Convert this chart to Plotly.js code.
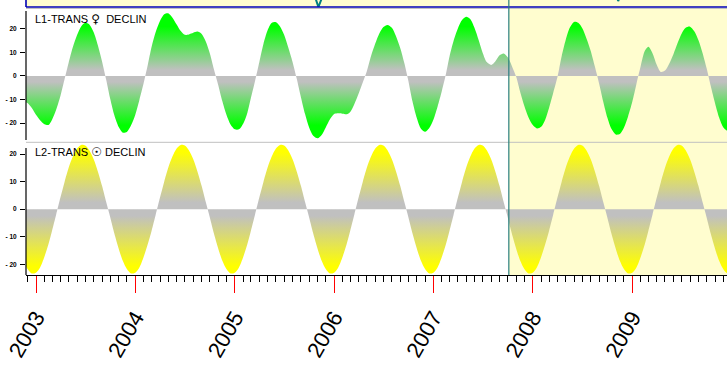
<!DOCTYPE html>
<html><head><meta charset="utf-8">
<script src="https://cdn.plot.ly/plotly-3.0.1.min.js"></script>
<style>html,body{margin:0;padding:0;background:#fff}#chart{width:727px;height:367px}</style>
</head><body><div id="chart"></div>
<script>
// Samples on the 1st and 16th of each month, starting 1 Nov 2002
const startYear = 2002, startMonth = 11;

// L1: transiting Venus declination (degrees)
const venusDecl = [
  -10.5, -10.8, -11.5, -13.5,
  -16.5, -18.8, -20.5, -20.8, -18.6, -14.4, -8.4, -1.4, 5.6, 12.1, 17.4, 21.1, 22.6, 21.9, 18.6, 13.2, 6.1, -1.6, -9.8, -16.7, -21.7, -24.1, -23.8, -21.1,
  -16.5, -10.2, -2.9, 4.8, 12.4, 18.7, 23.5, 26.3, 26.7, 24.9, 21.9, 19.1, 17.5, 17.7, 18.4, 18.9, 17.9, 14.7, 9.6, 2.9, -3.9, -10.8, -16.5, -20.6,
  -22.7, -22.7, -20.2, -15.6, -9.3, -2.2, 6.0, 13.6, 19.3, 22.5, 22.9, 21.1, 17.5, 12.2, 6.0, -1.0, -9.1, -16.2, -21.9, -25.4, -26.5, -25.1, -21.9, -18.5,
  -16.2, -15.9, -16.1, -16.3, -15.3, -12.0, -7.5, -2.8, 2.0, 8.3, 13.8, 18.1, 20.8, 21.7, 20.5, 17.0, 11.8, 5.4, -2.2, -10.9, -18.0, -22.4, -23.7, -22.2,
  -18.5, -13.1, -6.3, 0.9, 8.3, 15.0, 20.3, 23.8, 25.2, 24.2, 20.4, 15.3, 9.8, 5.9, 4.7, 6.2, 8.8, 9.6, 8.0, 4.3, -0.3, -6.9, -12.8, -17.6,
  -20.9, -22.3, -21.6, -18.5, -13.5, -7.2, -0.3, 8.3, 15.3, 20.5, 23.0, 22.6, 20.3, 16.1, 10.6, 4.1, -3.3, -11.0, -17.7, -22.5, -24.9, -24.7, -22.0, -17.3,
  -10.9, -3.4, 4.4, 10.7, 12.4, 9.7, 4.7, 1.7, 2.3, 5.1, 9.3, 13.9, 18.0, 20.5, 21.0, 19.1, 15.2, 9.8, 3.3, -4.2, -11.6, -17.7, -21.8, -23.3,
  -23.0
];

// L2: transiting Sun declination (degrees)
const sunDecl = [
  -14.3, -18.7, -21.7, -23.3,
  -23.0, -21.1, -17.2, -12.6, -7.8, -2.0, 4.3, 9.9, 15.0, 19.0, 22.0, 23.3, 23.1, 21.4, 18.1, 13.8, 8.4, 2.6, -3.0, -8.8, -14.3, -18.7, -21.7, -23.3,
  -23.0, -21.1, -17.2, -12.6, -7.8, -2.0, 4.3, 9.9, 15.0, 19.0, 22.0, 23.3, 23.1, 21.4, 18.1, 13.8, 8.4, 2.6, -3.0, -8.8, -14.3, -18.7, -21.7, -23.3,
  -23.0, -21.1, -17.2, -12.6, -7.8, -2.0, 4.3, 9.9, 15.0, 19.0, 22.0, 23.3, 23.1, 21.4, 18.1, 13.8, 8.4, 2.6, -3.0, -8.8, -14.3, -18.7, -21.7, -23.3,
  -23.0, -21.1, -17.2, -12.6, -7.8, -2.0, 4.3, 9.9, 15.0, 19.0, 22.0, 23.3, 23.1, 21.4, 18.1, 13.8, 8.4, 2.6, -3.0, -8.8, -14.3, -18.7, -21.7, -23.3,
  -23.0, -21.1, -17.2, -12.6, -7.8, -2.0, 4.3, 9.9, 15.0, 19.0, 22.0, 23.3, 23.1, 21.4, 18.1, 13.8, 8.4, 2.6, -3.0, -8.8, -14.3, -18.7, -21.7, -23.3,
  -23.0, -21.1, -17.2, -12.6, -7.8, -2.0, 4.3, 9.9, 15.0, 19.0, 22.0, 23.3, 23.1, 21.4, 18.1, 13.8, 8.4, 2.6, -3.0, -8.8, -14.3, -18.7, -21.7, -23.3,
  -23.0, -21.1, -17.2, -12.6, -7.8, -2.0, 4.3, 9.9, 15.0, 19.0, 22.0, 23.3, 23.1, 21.4, 18.1, 13.8, 8.4, 2.6, -3.0, -8.8, -14.3, -18.7, -21.7, -23.3,
  -23.0
];

// Top (cut-off) panel: the dips of its curve that reach into view
const stripDates  = ['2005-10-18', '2005-11-04', '2005-11-24', null, '2008-10-24', '2008-11-10', '2008-11-30'];
const stripValues = [2, 0, 2, null, 2.85, 0.85, 2.85];

const glyph = g => '<span style="font-family:\'DejaVu Sans\';font-size:12px">' + g + '</span>';
const panelLabels = ['L1-TRANS ' + glyph('\u2640') + '  DECLIN', 'L2-TRANS ' + glyph('\u2609') + ' DECLIN'];
const yTickVals = [-20, -10, 0, 10, 20];
const yTickText = ['- 20', '- 10', '0', '10', '20'];
const markerDate = '2007-10-05';
const xRange = ['2002-11-25 06:00', '2009-12-14 22:00'];

function semiMonthlyDates(n) {
  const out = [];
  let y = startYear, m = startMonth;
  for (let i = 0; i < n; i++) {
    out.push(y + '-' + String(m).padStart(2, '0') + '-' + (i % 2 === 0 ? '01' : '16'));
    if (i % 2 === 1) { m++; if (m > 12) { m = 1; y++; } }
  }
  return out;
}
const dates = semiMonthlyDates(venusDecl.length);

const GRAY = '#C0C0C0';
const traces = [
  {
    x: dates, y: venusDecl, xaxis: 'x', yaxis: 'y2', type: 'scatter', mode: 'lines',
    line: {width: 0, shape: 'spline', smoothing: 0.8}, fill: 'tozeroy',
    fillgradient: {type: 'vertical', start: -28, stop: 28,
      colorscale: [[0, '#00FF00'], [0.125, '#00FF00'], [0.455, GRAY], [0.545, GRAY], [0.875, '#00FF00'], [1, '#00FF00']]},
    hoverinfo: 'skip'
  },
  {
    x: dates, y: sunDecl, xaxis: 'x', yaxis: 'y', type: 'scatter', mode: 'lines',
    line: {width: 0, shape: 'spline', smoothing: 0.8}, fill: 'tozeroy',
    fillgradient: {type: 'vertical', start: -24, stop: 24,
      colorscale: [[0, '#FFFF00'], [0.07, '#FFFF00'], [0.45, GRAY], [0.55, GRAY], [0.93, '#FFFF00'], [1, '#FFFF00']]},
    hoverinfo: 'skip'
  },
  {
    x: stripDates, y: stripValues, xaxis: 'x', yaxis: 'y3', type: 'scatter', mode: 'lines',
    line: {width: 2, color: '#008080'}, connectgaps: false, hoverinfo: 'skip'
  }
];

const P = v => (275 - v) / 275; // helper: pixel row inside plot area -> paper fraction
const yCommon = {
  anchor: 'x', tickvals: yTickVals, ticktext: yTickText, ticks: 'outside', ticklen: 5, tickwidth: 1,
  tickcolor: '#000', tickfont: {family: 'Arial', size: 6.5, color: '#000', weight: 'bold'},
  showgrid: false, zeroline: false, showline: false, fixedrange: true, ticklabelstandoff: 2
};

const layout = {
  width: 727, height: 367,
  margin: {l: 26, r: 0, t: 0, b: 92, pad: 0},
  paper_bgcolor: '#ffffff', plot_bgcolor: 'rgba(0,0,0,0)',
  showlegend: false,
  xaxis: {
    type: 'date', range: xRange, anchor: 'y', showline: true, linecolor: '#000', linewidth: 1,
    ticks: 'outside', ticklen: 17, tickwidth: 1, tickcolor: '#FF0000',
    tick0: '2003-01-01', dtick: 'M12', tickformat: '%Y', tickangle: -60,
    tickfont: {family: 'Arial', size: 22, color: '#000'}, ticklabelstandoff: 3,
    showgrid: false, zeroline: false,
    minor: {dtick: 'M1', ticks: 'outside', ticklen: 6, tickwidth: 1, tickcolor: '#000', showgrid: false}
  },
  yaxis: Object.assign({domain: [0, P(143)], range: [-23.86, 24.0]}, yCommon),
  yaxis2: Object.assign({domain: [P(141), P(9)], range: [-27.66, 28.5]}, yCommon),
  yaxis3: {domain: [P(7), 1], range: [0, 1], anchor: 'x', visible: false, fixedrange: true},
  shapes: [
    {type: 'rect', xref: 'x', yref: 'paper', x0: markerDate, x1: xRange[1], y0: 0, y1: P(8.3),
     fillcolor: '#FFFDCF', line: {width: 0}, layer: 'below'},
    {type: 'rect', xref: 'paper', yref: 'paper', x0: 0, x1: 1, y0: P(7), y1: 1,
     fillcolor: '#FFFDCF', line: {width: 0}, layer: 'below'},
    {type: 'line', xref: 'paper', yref: 'paper', x0: 0, x1: 1, y0: P(8.5), y1: P(8.5), line: {color: GRAY, width: 1}},
    {type: 'line', xref: 'paper', yref: 'paper', x0: 0, x1: 1, y0: P(7), y1: P(7), line: {color: '#0000B4', width: 1.6}},
    {type: 'line', xref: 'paper', yref: 'paper', x0: 0, x1: 0, y0: P(7), y1: 1, line: {color: '#0000B4', width: 1.6}},
    {type: 'line', xref: 'paper', yref: 'paper', x0: 0, x1: 1, y0: P(142.3), y1: P(142.3), line: {color: GRAY, width: 1}},
    {type: 'line', xref: 'paper', yref: 'paper', x0: 0, x1: 0, y0: P(140), y1: P(11), line: {color: '#000', width: 1.2}},
    {type: 'line', xref: 'paper', yref: 'paper', x0: 0, x1: 0, y0: 0, y1: P(148), line: {color: '#000', width: 1.2}},
    {type: 'line', xref: 'x', yref: 'paper', x0: markerDate, x1: markerDate, y0: 0, y1: 1, line: {color: '#2A7F7F', width: 1.2}}
  ],
  annotations: [
    {xref: 'paper', yref: 'paper', x: 7 / 701, y: P(10), xanchor: 'left', yanchor: 'top', showarrow: false,
     text: panelLabels[0], font: {family: 'Arial', size: 11, color: '#000'}},
    {xref: 'paper', yref: 'paper', x: 7 / 701, y: P(143.5), xanchor: 'left', yanchor: 'top', showarrow: false,
     text: panelLabels[1], font: {family: 'Arial', size: 11, color: '#000'}}
  ]
};

Plotly.newPlot('chart', traces, layout, {staticPlot: true, displayModeBar: false});
</script>
</body></html>
